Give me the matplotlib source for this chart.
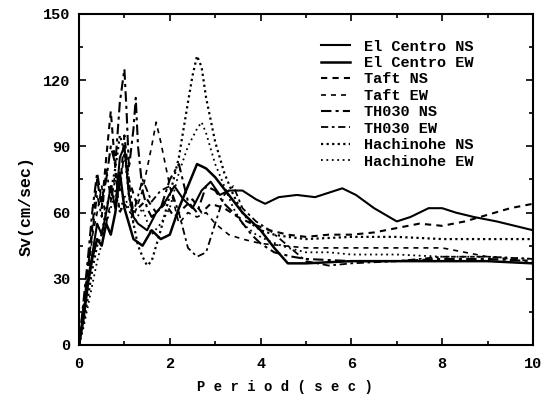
import matplotlib
matplotlib.use("Agg")
import matplotlib.pyplot as plt
from matplotlib.ticker import MultipleLocator

# ---------------- data ----------------
elc_ns_T = [0, 0.1, 0.2, 0.3, 0.4, 0.5, 0.6, 0.7, 0.8, 0.9, 1.0, 1.1, 1.2, 1.3, 1.5, 1.7, 1.9, 2.1, 2.3, 2.5,
            2.7, 2.9, 3.1, 3.3, 3.6, 3.9, 4.1, 4.4, 4.8, 5.2, 5.5, 5.8, 6.1, 6.5, 7.0, 7.3, 7.7, 8.0, 8.3, 8.7,
            9.2, 9.6, 10.0]
elc_ns_Sv = [0, 14, 30, 42, 55, 50, 60, 72, 62, 85, 90, 68, 58, 55, 52, 60, 65, 72, 66, 62,
             70, 74, 68, 70, 70, 66, 64, 67, 68, 67, 69, 71, 68, 62, 56, 58, 62, 62, 60, 58,
             56, 54, 52]

elc_ew_T = [0, 0.1, 0.2, 0.3, 0.4, 0.5, 0.6, 0.7, 0.8, 0.9, 1.0, 1.2, 1.4, 1.6, 1.8, 2.0, 2.2, 2.4, 2.6, 2.8,
            3.0, 3.3, 3.6, 4.0, 4.3, 4.6, 5.0, 6.0, 7.0, 8.0, 9.0, 10.0]
elc_ew_Sv = [0, 12, 28, 40, 48, 45, 55, 50, 60, 78, 62, 48, 45, 52, 48, 50, 62, 72, 82, 80,
             76, 68, 60, 52, 44, 37, 37, 38, 38, 38, 38, 37]

taft_ns_T = [0, 0.1, 0.2, 0.3, 0.4, 0.5, 0.6, 0.7, 0.8, 0.9, 1.0, 1.1, 1.3, 1.5, 1.7, 1.9, 2.1, 2.3, 2.5, 2.7,
             2.9, 3.2, 3.5, 3.8, 4.2, 4.6, 5.0, 5.5, 6.0, 6.5, 7.0, 7.5, 8.0, 8.5, 9.0, 9.5, 10.0]
taft_ns_Sv = [0, 18, 35, 55, 75, 62, 85, 106, 80, 70, 95, 75, 62, 66, 60, 64, 58, 62, 66, 60,
              64, 62, 58, 55, 52, 50, 49, 50, 50, 51, 53, 55, 54, 56, 59, 62, 64]

taft_ew_T = [0, 0.1, 0.2, 0.3, 0.4, 0.5, 0.6, 0.7, 0.8, 0.9, 1.0, 1.2, 1.4, 1.6, 1.7, 1.8, 2.0, 2.2, 2.4, 2.6,
             2.8, 3.0, 3.3, 3.6, 4.0, 4.5, 5.0, 5.5, 6.0, 7.0, 8.0, 8.5, 9.0, 9.5, 10.0]
taft_ew_Sv = [0, 15, 32, 50, 60, 72, 55, 65, 78, 60, 64, 58, 70, 90, 101, 92, 72, 55, 60, 58,
              60, 55, 50, 48, 46, 45, 44, 44, 44, 44, 44, 42, 40, 39, 38]

th_ns_T = [0, 0.1, 0.2, 0.3, 0.4, 0.5, 0.6, 0.7, 0.8, 0.9, 1.0, 1.05, 1.1, 1.2, 1.25, 1.3, 1.4, 1.5, 1.6, 1.8,
           2.0, 2.2, 2.4, 2.6, 2.8, 3.0, 3.2, 3.5, 3.8, 4.0, 4.3, 4.7, 5.0, 6.0, 7.0, 8.0, 9.0, 10.0]
th_ns_Sv = [0, 20, 40, 62, 78, 65, 75, 90, 82, 110, 125, 105, 80, 98, 112, 90, 70, 62, 58, 62,
            75, 82, 65, 60, 72, 70, 64, 58, 50, 46, 42, 40, 39, 38, 38, 39, 39, 38]

th_ew_T = [0, 0.1, 0.2, 0.3, 0.4, 0.5, 0.6, 0.7, 0.8, 0.9, 1.0, 1.2, 1.4, 1.6, 1.8, 2.0, 2.2, 2.4, 2.6, 2.8,
           3.0, 3.2, 3.4, 3.6, 3.9, 4.2, 4.6, 5.0, 5.5, 6.0, 7.0, 8.0, 9.0, 10.0]
th_ew_Sv = [0, 16, 36, 52, 68, 58, 80, 66, 75, 70, 88, 60, 75, 65, 70, 72, 60, 44, 40, 42,
            55, 68, 72, 62, 56, 52, 45, 38, 36, 37, 38, 40, 40, 39]

hachi_ns_T = [0, 0.1, 0.2, 0.3, 0.4, 0.5, 0.6, 0.7, 0.8, 0.9, 1.0, 1.1, 1.2, 1.3, 1.4, 1.5, 1.6, 1.8, 2.0, 2.2,
              2.4, 2.5, 2.6, 2.7, 2.8, 3.0, 3.2, 3.4, 3.6, 3.8, 4.0, 4.3, 4.6, 5.0, 6.0, 7.0, 8.0, 9.0, 10.0]
hachi_ns_Sv = [0, 10, 22, 35, 45, 50, 62, 70, 80, 95, 88, 68, 55, 45, 40, 36, 38, 52, 68, 85,
               110, 122, 131, 126, 112, 92, 78, 68, 60, 55, 52, 50, 49, 48, 49, 49, 48, 48, 48]

hachi_ew_T = [0, 0.1, 0.2, 0.3, 0.4, 0.5, 0.6, 0.7, 0.8, 0.9, 1.0, 1.2, 1.4, 1.6, 1.8, 2.0, 2.2, 2.4, 2.6, 2.7,
              2.8, 3.0, 3.2, 3.4, 3.6, 3.9, 4.2, 4.6, 5.0, 5.5, 6.0, 7.0, 8.0, 9.0, 10.0]
hachi_ew_Sv = [0, 8, 18, 28, 38, 46, 55, 62, 70, 60, 68, 55, 62, 50, 55, 62, 78, 90, 98, 101,
               96, 82, 72, 62, 55, 50, 47, 44, 42, 42, 41, 41, 40, 40, 39]

labels = ["El Centro NS", "El Centro EW", "Taft NS", "Taft EW",
          "TH030 NS", "TH030 EW", "Hachinohe NS", "Hachinohe EW"]

x_ticks = [0, 2, 4, 6, 8, 10]
y_ticks = [0, 30, 60, 90, 120, 150]

# ---------------- plot ----------------
FONT = ["Liberation Mono", "DejaVu Sans Mono"]
plt.rcParams["font.family"] = FONT
plt.rcParams["font.weight"] = "bold"

fig = plt.figure(figsize=(5.51, 4.0), dpi=100)
ax = fig.add_axes([79 / 551, 55 / 400, 454 / 551, 331 / 400])

series = [
    (elc_ns_T, elc_ns_Sv, dict(ls="-", lw=1.5)),
    (elc_ew_T, elc_ew_Sv, dict(ls="-", lw=1.8)),
    (taft_ns_T, taft_ns_Sv, dict(ls=(0, (3, 2.5)), lw=1.5)),
    (taft_ew_T, taft_ew_Sv, dict(ls=(0, (3, 3)), lw=1.2)),
    (th_ns_T, th_ns_Sv, dict(ls=(0, (5, 2, 1.5, 2)), lw=1.5)),
    (th_ew_T, th_ew_Sv, dict(ls=(0, (4, 2, 1.5, 2)), lw=1.3)),
    (hachi_ns_T, hachi_ns_Sv, dict(ls=(0, (1, 1.5)), lw=1.6)),
    (hachi_ew_T, hachi_ew_Sv, dict(ls=(0, (1, 2)), lw=1.3)),
]
for (T, S, st), lab in zip(series, labels):
    ax.plot(T, S, color="black", label=lab, **st)

ax.set_xlim(0, 10)
ax.set_ylim(0, 150)
ax.set_xticks(x_ticks)
ax.set_yticks(y_ticks)
ax.xaxis.set_minor_locator(MultipleLocator(1))
ax.yaxis.set_minor_locator(MultipleLocator(15))
ax.tick_params(which="both", direction="in", top=True, right=True, width=1.2)
ax.tick_params(which="major", length=5, labelsize=11)
ax.tick_params(axis="x", which="major", pad=9)
ax.tick_params(axis="y", which="major", pad=6)
ax.tick_params(which="minor", length=3)
for s in ax.spines.values():
    s.set_linewidth(1.5)
for lab in ax.get_xticklabels() + ax.get_yticklabels():
    lab.set_fontweight("bold")

ax.set_xlabel("P e r i o d ( s e c )", fontsize=10, fontweight="bold", labelpad=7)
ax.xaxis.set_label_coords(0.454, -0.105)
ax.set_ylabel("Sv(cm/sec)", fontsize=12, fontweight="bold")
ax.yaxis.set_label_coords(-0.10, 0.42)

leg = ax.legend(loc="upper left", bbox_to_anchor=(0.51, 0.955), frameon=False,
                prop=dict(family=FONT, weight="bold", size=11),
                handlelength=1.9, handletextpad=0.9, labelspacing=0.16, borderpad=0.2)

fig.savefig("out.png", dpi=100)
